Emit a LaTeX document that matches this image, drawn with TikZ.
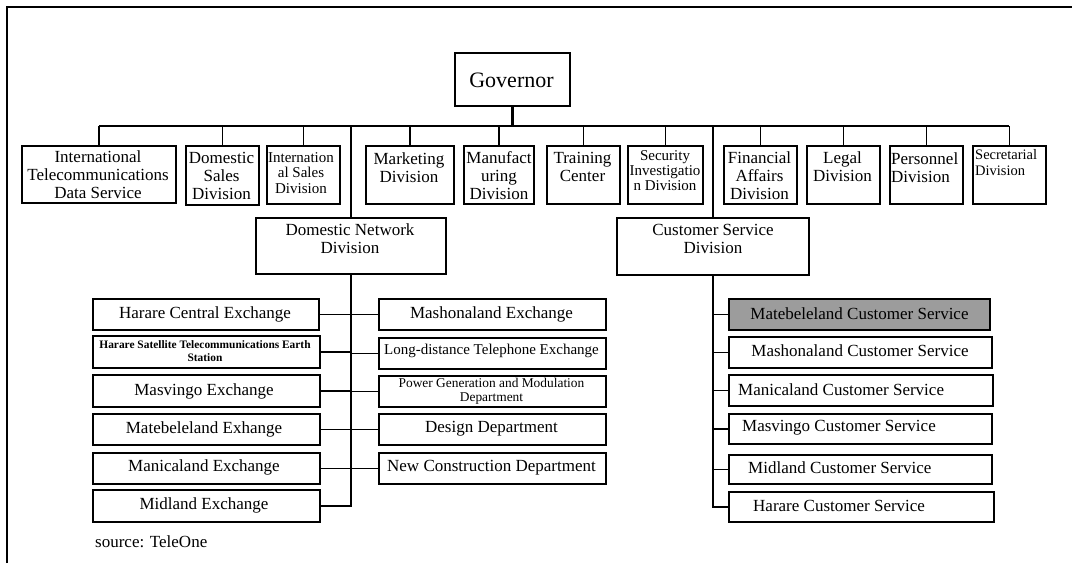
\documentclass[tikz,border=0pt]{standalone}
\usepackage{fontspec}
\setmainfont{Liberation Serif}
\newcommand\fsz[2]{\fontsize{#1}{#2}\selectfont}
\newcommand\B[6][]{\node[box,#1,anchor=north west,minimum width={#5pt-#3pt},minimum height={#6pt-#4pt}] (#2) at (#3,#4) {};}
\definecolor{hlgray}{RGB}{156,156,156}
\tikzset{
  box/.style={draw, line width=1.6pt, inner sep=0pt, rectangle},
  conn/.style={line width=1.4pt},
  frame/.style={line width=2pt},
  txt/.style={inner sep=0pt, align=center, font=\fsz{17}{18}},
  txtsmall/.style={inner sep=0pt, align=center, font=\fsz{15}{15.5}},
}
\begin{document}
\begin{tikzpicture}[x=1pt,y=-1pt]
\useasboundingbox (0,0) rectangle (1072,563);
\coordinate (fbl) at (7,563);
\coordinate (ftl) at (7,7);
\coordinate (ftr) at (1072,7);
\draw[frame] (fbl) -- (ftl) -- (ftr);

% Governor
\B{gov}{454}{52}{569}{105}
\node[txt, font=\fsz{22}{24}] (govt) at (511.5,80) {Governor};

% top row
\B{b1}{21}{145}{175}{202}
\B{b2}{185}{145}{258}{204}
\B{b3}{266}{145}{339}{203}
\B{b4}{365}{145}{453}{203}
\B{b5}{463}{145}{533}{203}
\B{b6}{546}{145}{619}{203}
\B{b7}{627}{145}{702}{203}
\B{b8}{723}{145}{796}{203}
\B{b9}{806}{145}{879}{203}
\B{b10}{889}{145}{962}{203}
\B{b11}{972}{145}{1045}{203}
\node[txt] (b1t) at (98,175) {International\\Telecommunications\\Data Service};
\node[txt] (b2t) at (221.5,176) {Domestic\\Sales\\Division};
\node[txtsmall] (b3t) at (301,173) {Internation\\al Sales\\Division};
\node[txt] (b4t) at (409,168) {Marketing\\Division};
\node[txt] (b5t) at (499,176) {Manufact\\uring\\Division};
\node[txt] (b6t) at (582.5,166.5) {Training\\Center};
\node[txtsmall, font=\fsz{15}{15}] (b7t) at (665,171) {Security\\Investigatio\\n Division};
\node[txt] (b8t) at (759.5,176) {Financial\\Affairs\\Division};
\node[txt] (b9t) at (842.5,167) {Legal\\Division};
\node[txt, align=left, anchor=west] (b10t) at (891,167.5) {Personnel\\Division};
\node[txt, align=left, anchor=west, font=\fsz{14.5}{16}] (b11t) at (975,163) {Secretarial\\Division};

% second level
\B{dn}{255}{217}{445}{273}
\B{cs}{616}{217}{808}{274}
\node[txt] (dnt) at (350,238.5) {Domestic Network\\Division};
\node[txt] (cst) at (713,238.5) {Customer Service\\Division};

% Domestic Network, left column
\B{l1}{92}{298}{318}{329}
\B{l2}{92}{335}{319}{367}
\B{l3}{92}{374}{319}{406}
\B{l4}{92}{413}{319}{444}
\B{l5}{92}{452}{319}{483}
\B{l6}{92}{489}{319}{521}
\node[txt] (l1t) at (205,314) {Harare Central Exchange};
\node[txt, font=\bfseries\fsz{11.4}{13}] (l2t) at (205,351.5) {Harare Satellite Telecommunications Earth\\Station};
\node[txt] (l3t) at (204,391) {Masvingo Exchange};
\node[txt] (l4t) at (204,429) {Matebeleland Exhange};
\node[txt] (l5t) at (204,467.5) {Manicaland Exchange};
\node[txt] (l6t) at (204,505) {Midland Exchange};

% Domestic Network, right column
\node[txt, font=\fsz{13.4}{14}] (r3t) at (491.5,391) {Power Generation and Modulation\\Department};
\B{r1}{378}{298}{605}{329}
\B{r2}{378}{337}{605}{368}
\B{r3}{378}{375}{605}{406}
\B{r4}{378}{413}{605}{444}
\B{r5}{378}{452}{605}{483}
\node[txt] (r1t) at (491.5,314) {Mashonaland Exchange};
\node[txtsmall] (r2t) at (491.5,351) {Long-distance Telephone Exchange};
\node[txt] (r4t) at (491.5,428.5) {Design Department};
\node[txt] (r5t) at (491.5,467.5) {New Construction Department};

% Customer Service column
\B[fill=hlgray]{c1}{728}{298}{989}{329}
\B{c2}{728}{336}{991}{367}
\B{c3}{728}{374}{992}{405}
\B{c4}{728}{413}{991}{443}
\B{c5}{728}{454}{991}{483}
\B{c6}{728}{491}{993}{521}
\node[txt] (c1t) at (859.5,313.5) {Matebeleland Customer Service};
\node[txt] (c2t) at (860,351) {Mashonaland Customer Service};
\node[txt, anchor=west] (c3t) at (738,389.5) {Manicaland Customer Service};
\node[txt, anchor=west] (c4t) at (742,427.5) {Masvingo Customer Service};
\node[txt, anchor=west] (c5t) at (748,468) {Midland Customer Service};
\node[txt, anchor=west] (c6t) at (753,506) {Harare Customer Service};

\node[txt, anchor=west] (src) at (95,542) {source: TeleOne};

% connectors
\coordinate (bus) at (512,126);
\draw[line width=3pt] (gov.south) -- (gov.south |- bus);
\draw[conn] (b1.north |- bus) -- (b11.north |- bus);
\foreach \n in {b1,b2,b3,b4,b5,b6,b7,b8,b9,b10,b11}
  \draw[conn] (\n.north) -- (\n.north |- bus);
\draw[line width=1.6pt] (dn.north) -- (dn.north |- bus);
\draw[line width=1.6pt] (cs.north) -- (cs.north |- bus);
\draw[line width=2.4pt] (dn.south) |- (l6.east);
\foreach \n in {l1,l2,l3,l4,l5}
  \draw[conn] (\n.east) -- (\n.east -| dn.south);
\foreach \n in {r1,r2,r3,r4,r5}
  \draw[conn] (\n.west) -- (\n.west -| dn.south);
\draw[line width=2pt] (cs.south) |- (c6.west);
\foreach \n in {c1,c2,c3,c4,c5}
  \draw[conn] (\n.west) -- (\n.west -| cs.south);
\end{tikzpicture}
\end{document}
